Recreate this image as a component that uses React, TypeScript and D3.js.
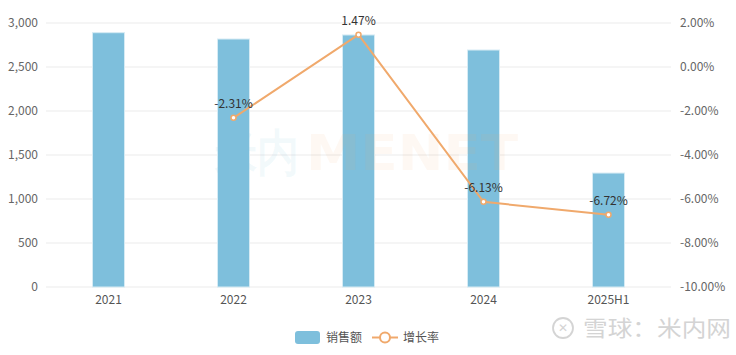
import React from "react";
import * as d3 from "d3";

const categories = ["2021", "2022", "2023", "2024", "2025H1"];
const sales = [2890, 2818, 2864, 2693, 1295];
const growth: (number | null)[] = [null, -2.31, 1.47, -6.13, -6.72];
const leftTicks = [0, 500, 1000, 1500, 2000, 2500, 3000];
const rightTicks = [2, 0, -2, -4, -6, -8, -10];

const W = 736, H = 355;
const left = 46, right = 671, top = 23, bottom = 287;
const barColor = "#7ebfdc";
const lineColor = "#f0a96c";
const font = "'Noto Sans CJK SC', 'Noto Sans', sans-serif";

export default function App() {
  const x = d3.scaleBand<string>().domain(categories).range([left, right]).paddingInner(0).paddingOuter(0);
  const yL = d3.scaleLinear().domain([0, 3000]).range([bottom, top]);
  const yR = d3.scaleLinear().domain([-10, 2]).range([bottom, top]);
  const bw = 32;
  const fmt = d3.format(",");
  const pts = categories
    .map((c, i) => ({ c, v: growth[i] }))
    .filter((d) => d.v !== null) as { c: string; v: number }[];
  const line = d3
    .line<{ c: string; v: number }>()
    .x((d) => (x(d.c) as number) + x.bandwidth() / 2)
    .y((d) => yR(d.v));

  return (
    <svg width={W} height={H} style={{ position: "absolute", left: 0, top: 0, background: "#fff" }} fontFamily={font}>
      {leftTicks.map((t) => (
        <g key={t}>
          <line x1={left} x2={right} y1={yL(t)} y2={yL(t)} stroke="#ebebeb" strokeWidth={1} />
          <text x={38} y={yL(t)} dy="0.35em" textAnchor="end" fontSize={12} fill="#666">
            {fmt(t)}
          </text>
        </g>
      ))}
      {rightTicks.map((t) => (
        <text key={t} x={680} y={yR(t)} dy="0.35em" textAnchor="start" fontSize={12} fill="#666">
          {t.toFixed(2) + "%"}
        </text>
      ))}
      {categories.map((c) => (
        <text key={c} x={(x(c) as number) + x.bandwidth() / 2} y={304} textAnchor="middle" fontSize={12} fill="#555">
          {c}
        </text>
      ))}
      {categories.map((c, i) => (
        <rect
          key={c}
          x={(x(c) as number) + x.bandwidth() / 2 - bw / 2}
          y={yL(sales[i])}
          width={bw}
          height={yL(0) - yL(sales[i])}
          fill={barColor}
          stroke="#d6ebf4"
          strokeWidth={1}
        />
      ))}
      <g fontWeight="bold" fontSize={50} fontFamily="'DejaVu Sans', sans-serif">
        <text x={215} y={170} fill="#7ebfdc" fillOpacity={0.1} textLength={84} lengthAdjust="spacingAndGlyphs">米内</text>
        <text x={306} y={170} fill="#f5a66a" fillOpacity={0.08} textLength={212} lengthAdjust="spacingAndGlyphs">MENET</text>
      </g>
      <path d={line(pts) || ""} fill="none" stroke={lineColor} strokeWidth={2} />
      {pts.map((d) => (
        <g key={d.c}>
          <circle cx={(x(d.c) as number) + x.bandwidth() / 2} cy={yR(d.v)} r={2.5} fill="#fff" stroke={lineColor} strokeWidth={1.5} />
          <text x={(x(d.c) as number) + x.bandwidth() / 2} y={yR(d.v) - 10} textAnchor="middle" fontSize={12} fill="#333">
            {d.v.toFixed(2) + "%"}
          </text>
        </g>
      ))}
      <g>
        <rect x={295} y={331} width={25} height={13} rx={3} fill={barColor} />
        <text x={326} y={337.5} dy="0.35em" fontSize={12} fill="#555">销售额</text>
        <line x1={372} x2={398} y1={337.5} y2={337.5} stroke={lineColor} strokeWidth={2} />
        <circle cx={385} cy={337.5} r={5} fill="#fff" stroke={lineColor} strokeWidth={2} />
        <text x={403} y={337.5} dy="0.35em" fontSize={12} fill="#555">增长率</text>
      </g>
      <g opacity={0.5}>
        <circle cx={563} cy={328} r={10} fill="none" stroke="#aaa" strokeWidth={1.8} />
        <text x={563} y={328} dy="0.35em" textAnchor="middle" fontSize={12} fill="#aaa">✕</text>
        <text x={583} y={328} dy="0.35em" fontSize={22} fill="#aaa" textLength={148} lengthAdjust="spacingAndGlyphs">雪球：米内网</text>
      </g>
    </svg>
  );
}
